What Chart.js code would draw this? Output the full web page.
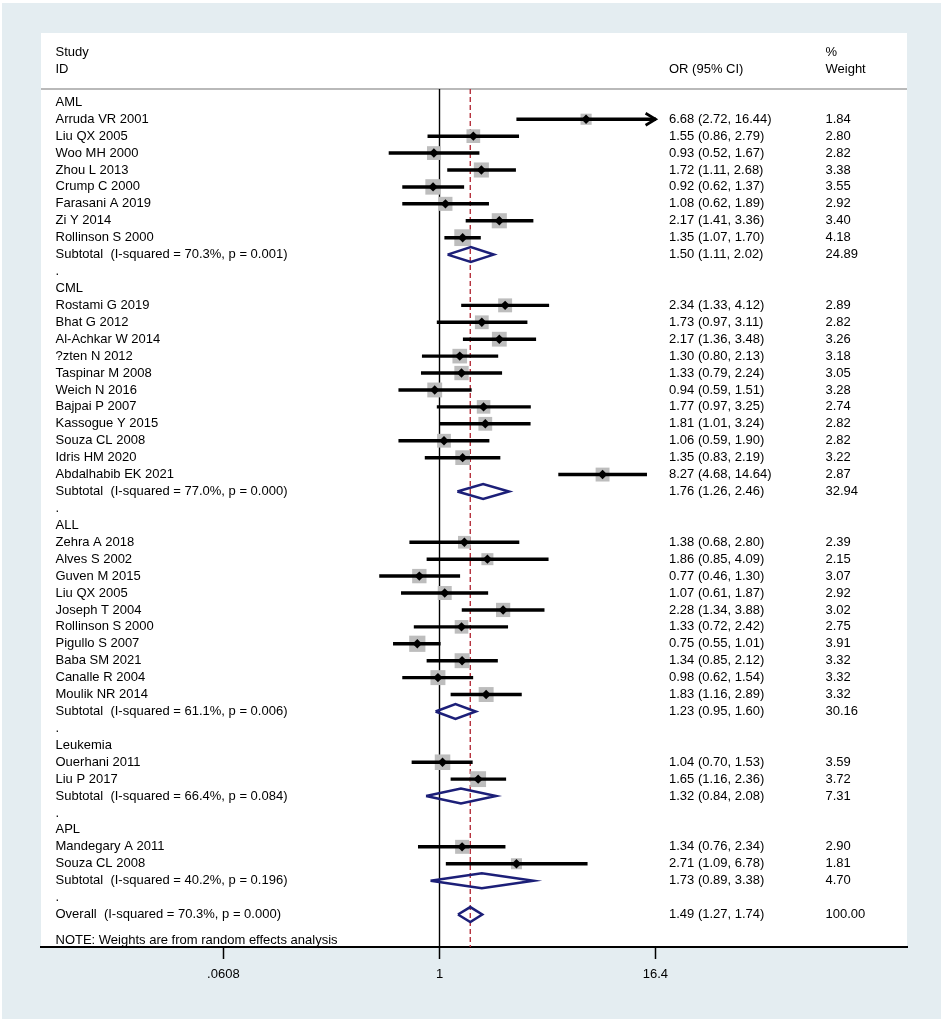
<!DOCTYPE html>
<html><head><meta charset="utf-8">
<script src="https://cdn.jsdelivr.net/npm/chart.js@4.4.1/dist/chart.umd.min.js"></script>
<style>html,body{margin:0;padding:0;background:#fff;}canvas{display:block;}</style>
</head><body>
<canvas id="c" width="941" height="1019"></canvas>
<script>
// ---------------- DATA ----------------
const groupNames = ['AML', 'CML', 'ALL', 'Leukemia', 'APL'];
const studyLabels = [
  'Arruda VR 2001','Liu QX 2005','Woo MH 2000','Zhou L 2013','Crump C 2000','Farasani A 2019','Zi Y 2014','Rollinson S 2000',
  'Rostami G 2019','Bhat G 2012','Al-Achkar W 2014','?zten N 2012','Taspinar M 2008','Weich N 2016','Bajpai P 2007','Kassogue Y 2015','Souza CL 2008','Idris HM 2020','Abdalhabib EK 2021',
  'Zehra A 2018','Alves S 2002','Guven M 2015','Liu QX 2005','Joseph T 2004','Rollinson S 2000','Pigullo S 2007','Baba SM 2021','Canalle R 2004','Moulik NR 2014',
  'Ouerhani 2011','Liu P 2017',
  'Mandegary A 2011','Souza CL 2008'
];
const studyGroup = [0,0,0,0,0,0,0,0, 1,1,1,1,1,1,1,1,1,1,1, 2,2,2,2,2,2,2,2,2,2, 3,3, 4,4];
const studyOR = [6.68,1.55,0.93,1.72,0.92,1.08,2.17,1.35, 2.34,1.73,2.17,1.30,1.33,0.94,1.77,1.81,1.06,1.35,8.27, 1.38,1.86,0.77,1.07,2.28,1.33,0.75,1.34,0.98,1.83, 1.04,1.65, 1.34,2.71];
const studyLo = [2.72,0.86,0.52,1.11,0.62,0.62,1.41,1.07, 1.33,0.97,1.36,0.80,0.79,0.59,0.97,1.01,0.59,0.83,4.68, 0.68,0.85,0.46,0.61,1.34,0.72,0.55,0.85,0.62,1.16, 0.70,1.16, 0.76,1.09];
const studyHi = [16.44,2.79,1.67,2.68,1.37,1.89,3.36,1.70, 4.12,3.11,3.48,2.13,2.24,1.51,3.25,3.24,1.90,2.19,14.64, 2.80,4.09,1.30,1.87,3.88,2.42,1.01,2.12,1.54,2.89, 1.53,2.36, 2.34,6.78];
const studyWeight = [1.84,2.80,2.82,3.38,3.55,2.92,3.40,4.18, 2.89,2.82,3.26,3.18,3.05,3.28,2.74,2.82,2.82,3.22,2.87, 2.39,2.15,3.07,2.92,3.02,2.75,3.91,3.32,3.32,3.32, 3.59,3.72, 2.90,1.81];

const subtotalLabels = [
  'Subtotal  (I-squared = 70.3%, p = 0.001)',
  'Subtotal  (I-squared = 77.0%, p = 0.000)',
  'Subtotal  (I-squared = 61.1%, p = 0.006)',
  'Subtotal  (I-squared = 66.4%, p = 0.084)',
  'Subtotal  (I-squared = 40.2%, p = 0.196)'
];
const subOR = [1.50, 1.76, 1.23, 1.32, 1.73];
const subLo = [1.11, 1.26, 0.95, 0.84, 0.89];
const subHi = [2.02, 2.46, 1.60, 2.08, 3.38];
const subWeight = [24.89, 32.94, 30.16, 7.31, 4.70];

const overallLabel = 'Overall  (I-squared = 70.3%, p = 0.000)';
const overallOR = [1.49];
const overallLo = [1.27];
const overallHi = [1.74];
const overallWeight = [100.00];

const noteText = 'NOTE: Weights are from random effects analysis';
const headerLeft = ['Study', 'ID'];
const headerMid = 'OR (95% CI)';
const headerRight = ['%', 'Weight'];

const xTicks = [0.0608, 1, 16.4];
const xTickLabels = ['.0608', '1', '16.4'];

// ---------------- ROW LAYOUT ----------------
const textRows = [];
const studyRow = [];
const subRow = [];
let r = 0;
groupNames.forEach((g, gi) => {
  textRows.push({row: r++, text: g});
  studyLabels.forEach((s, i) => {
    if (studyGroup[i] === gi) { studyRow[i] = r; textRows.push({row: r, text: s, est: [studyOR[i], studyLo[i], studyHi[i], studyWeight[i]]}); r++; }
  });
  subRow[gi] = r;
  textRows.push({row: r++, text: subtotalLabels[gi], est: [subOR[gi], subLo[gi], subHi[gi], subWeight[gi]]});
  textRows.push({row: r++, text: '.'});
});
const overallRow = r;
textRows.push({row: overallRow, text: overallLabel, est: [overallOR[0], overallLo[0], overallHi[0], overallWeight[0]]});
const noteRow = overallRow + 1.55;

const Y_MIN = -4.096, Y_MAX = 49.92, SEP_ROW = -0.786;
const DIAMOND_H = 0.44;

// ---------------- DATASETS ----------------
const ciData = studyLabels.map((s, i) => ({x: [studyLo[i], studyHi[i]], y: studyRow[i]}));
const ptData = studyLabels.map((s, i) => ({x: studyOR[i], y: studyRow[i]}));
const boxRadius = studyWeight.map(w => 8.2 * Math.sqrt(w) / Math.SQRT2);

const diamondData = [];
function addDiamond(est, lo, hi, row) {
  diamondData.push({x: lo, y: row}, {x: est, y: row - DIAMOND_H}, {x: hi, y: row}, {x: est, y: row + DIAMOND_H}, {x: lo, y: row}, {x: est, y: null});
}
subOR.forEach((v, i) => addDiamond(v, subLo[i], subHi[i], subRow[i]));
addDiamond(overallOR[0], overallLo[0], overallHi[0], overallRow);

const FONT = '13px "Liberation Sans", Arial, Helvetica, sans-serif';

const decorPlugin = {
  id: 'decor',
  beforeDraw(chart) {
    const ctx = chart.ctx, ca = chart.chartArea;
    ctx.save();
    ctx.fillStyle = '#ffffff';
    ctx.fillRect(0, 0, chart.width, chart.height);
    ctx.fillStyle = '#e4edf1';
    ctx.fillRect(2, 3, chart.width - 2, chart.height - 3);
    ctx.fillStyle = '#ffffff';
    ctx.fillRect(ca.left, ca.top, ca.right - ca.left, ca.bottom - ca.top);
    const ys = chart.scales.y.getPixelForValue(SEP_ROW);
    ctx.strokeStyle = '#b9b9b9';
    ctx.lineWidth = 2;
    ctx.beginPath(); ctx.moveTo(ca.left, ys); ctx.lineTo(ca.right, ys); ctx.stroke();
    ctx.restore();
  },
  afterDatasetsDraw(chart) {
    const ctx = chart.ctx, xs = chart.scales.x, ys = chart.scales.y;
    const xMaxTick = xTicks[xTicks.length - 1];
    ctx.save();
    ctx.strokeStyle = '#000'; ctx.lineWidth = 2.7; ctx.lineJoin = 'miter';
    studyHi.forEach((hi, i) => {
      if (hi > xMaxTick) {
        const px = xs.getPixelForValue(hi), py = ys.getPixelForValue(studyRow[i]);
        ctx.beginPath(); ctx.moveTo(px - 10, py - 6); ctx.lineTo(px, py); ctx.lineTo(px - 10, py + 6); ctx.stroke();
      }
    });
    ctx.restore();
  },
  afterDraw(chart) {
    const ctx = chart.ctx, ys = chart.scales.y;
    ctx.save();
    ctx.font = FONT; ctx.fillStyle = '#000'; ctx.textBaseline = 'middle'; ctx.textAlign = 'left';
    const xName = 55.5, xOR = 669, xW = 825.5;
    ctx.fillText(headerLeft[0], xName, ys.getPixelForValue(-2.955));
    ctx.fillText(headerLeft[1], xName, ys.getPixelForValue(-1.95));
    ctx.fillText(headerMid, xOR, ys.getPixelForValue(-1.95));
    ctx.fillText(headerRight[0], xW, ys.getPixelForValue(-2.955));
    ctx.fillText(headerRight[1], xW, ys.getPixelForValue(-1.95));
    textRows.forEach(t => {
      const py = ys.getPixelForValue(t.row);
      ctx.fillText(t.text, xName, py);
      if (t.est) {
        const [e, lo, hi, w] = t.est;
        ctx.fillText(e.toFixed(2) + ' (' + lo.toFixed(2) + ', ' + hi.toFixed(2) + ')', xOR, py);
        ctx.fillText(w.toFixed(2), xW, py);
      }
    });
    ctx.fillText(noteText, xName, ys.getPixelForValue(noteRow));
    ctx.restore();
  }
};

new Chart(document.getElementById('c'), {
  type: 'scatter',
  data: {
    datasets: [
      { type: 'line', data: [{x: 1, y: SEP_ROW}, {x: 1, y: Y_MAX}], borderColor: '#000', borderWidth: 1.4, pointRadius: 0, order: 6 },
      { type: 'line', data: [{x: overallOR[0], y: SEP_ROW}, {x: overallOR[0], y: Y_MAX}], borderColor: '#b5303c', borderWidth: 1.4, borderDash: [5, 3], pointRadius: 0, order: 5 },
      { type: 'scatter', data: ptData, pointStyle: 'rect', pointRadius: boxRadius, backgroundColor: '#bdbdbd', borderWidth: 0, order: 4 },
      { type: 'bar', indexAxis: 'y', data: ciData, backgroundColor: '#000', borderWidth: 0, barThickness: 2.8, order: 3 },
      { type: 'scatter', data: ptData, pointStyle: 'rectRot', pointRadius: 4.7, backgroundColor: '#000', borderWidth: 0, order: 2 },
      { type: 'line', data: diamondData, borderColor: '#1c1f78', borderWidth: 2.5, pointRadius: 0, spanGaps: false, fill: false, borderJoinStyle: 'miter', tension: 0, order: 1 }
    ]
  },
  options: {
    responsive: false,
    devicePixelRatio: 1,
    animation: false,
    events: [],
    layout: { padding: { left: 41, right: 34, top: 33, bottom: 0 } },
    plugins: { legend: { display: false }, tooltip: { enabled: false } },
    scales: {
      x: {
        type: 'logarithmic',
        position: 'bottom',
        bounds: 'data',
        offset: false,
        min: 0.005725,
        max: 427,
        afterBuildTicks: (s) => { s.ticks = xTicks.map(v => ({value: v})); },
        afterFit: (s) => { s.height = 72; },
        ticks: {
          autoSkip: false, maxRotation: 0, padding: 8, color: '#000',
          font: { family: '"Liberation Sans", Arial, Helvetica, sans-serif', size: 13 },
          callback: (v) => { const k = xTicks.indexOf(v); return k >= 0 ? xTickLabels[k] : ''; }
        },
        grid: { display: true, drawOnChartArea: false, drawTicks: true, tickLength: 12, tickWidth: 1.5, tickColor: '#000', offset: false },
        border: { display: true, color: '#000', width: 2 }
      },
      y: {
        type: 'linear',
        display: false,
        bounds: 'data',
        offset: false,
        reverse: true,
        min: Y_MIN,
        max: Y_MAX
      }
    }
  },
  plugins: [decorPlugin]
});
</script>
</body></html>
